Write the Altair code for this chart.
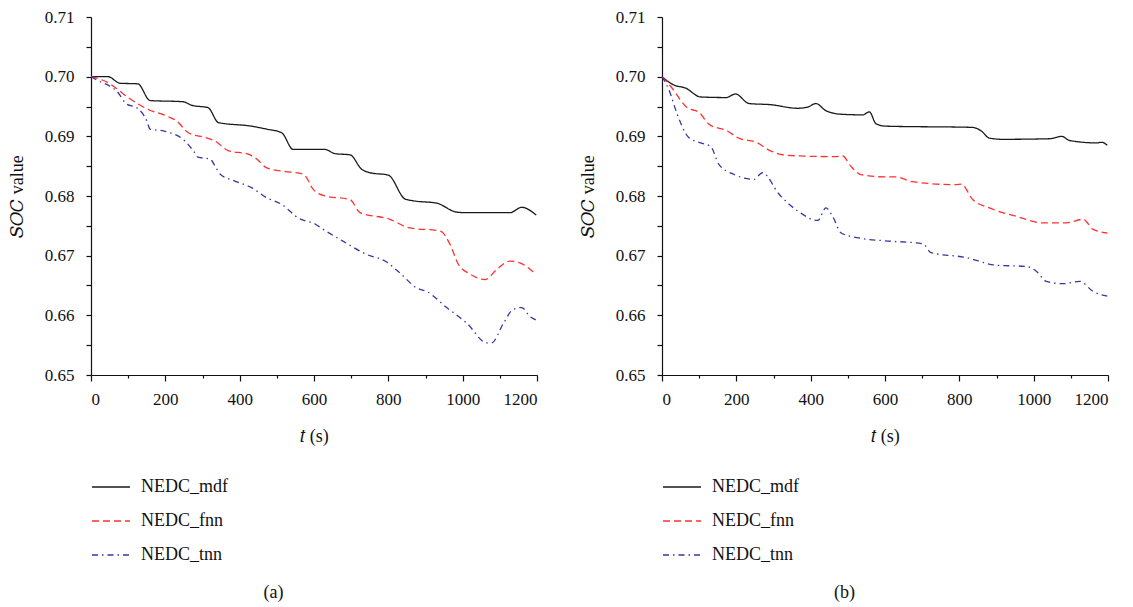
import altair as alt
import pandas as pd

# ---------------- data ----------------
series_names = ["NEDC_mdf", "NEDC_fnn", "NEDC_tnn"]
series_colors = ["#1a1a1a", "#ff3030", "#3a36a0"]
series_dashes = [[1, 0], [7, 4], [6, 4, 1.5, 4]]

# panel (a)
mdf_a_t = [0, 46, 78, 126, 159, 248, 271, 315, 343, 432, 473, 513, 544, 603, 630, 656, 697,
           728, 751, 800, 845, 867, 930, 984, 1011, 1127, 1159, 1198]
mdf_a_v = [0.7000, 0.7000, 0.6989, 0.6988, 0.6960, 0.6958, 0.6952, 0.6948, 0.6923, 0.6917,
           0.6912, 0.6906, 0.6878, 0.6878, 0.6878, 0.6871, 0.6869, 0.6845, 0.6839, 0.6835,
           0.6795, 0.6792, 0.6788, 0.6773, 0.6772, 0.6772, 0.6781, 0.6768]
fnn_a_t = [0, 51, 65, 100, 154, 204, 230, 262, 307, 334, 369, 423, 446, 473, 522, 562, 576,
           598, 630, 697, 724, 804, 854, 940, 966, 988, 1020, 1060, 1092, 1127, 1154, 1198]
fnn_a_v = [0.7000, 0.6988, 0.6982, 0.6965, 0.6945, 0.6934, 0.6926, 0.6906, 0.6898, 0.6892,
           0.6876, 0.6870, 0.6862, 0.6847, 0.6841, 0.6838, 0.6834, 0.6811, 0.6800, 0.6794,
           0.6772, 0.6761, 0.6747, 0.6741, 0.6719, 0.6686, 0.6669, 0.6660, 0.6677, 0.6691,
           0.6688, 0.6668]
tnn_a_t = [0, 20, 51, 69, 96, 123, 150, 159, 195, 253, 275, 288, 320, 334, 347, 387, 432, 473,
           513, 558, 603, 625, 679, 742, 791, 831, 876, 903, 957, 1011, 1065, 1078, 1110, 1136,
           1159, 1181, 1198]
tnn_a_v = [0.7000, 0.6993, 0.6984, 0.6976, 0.6954, 0.6948, 0.6926, 0.6912, 0.6909, 0.6892,
           0.6876, 0.6865, 0.6862, 0.6850, 0.6837, 0.6825, 0.6814, 0.6797, 0.6786, 0.6763,
           0.6753, 0.6744, 0.6724, 0.6702, 0.6691, 0.6671, 0.6646, 0.6640, 0.6613, 0.6587,
           0.6554, 0.6554, 0.6587, 0.6610, 0.6613, 0.6598, 0.6592]

# panel (b)
mdf_b_t = [0, 32, 63, 104, 172, 198, 234, 293, 365, 392, 414, 441, 482, 540, 558, 576, 603,
           836, 859, 881, 917, 1043, 1075, 1097, 1169, 1183, 1198]
mdf_b_v = [0.7000, 0.6986, 0.6981, 0.6966, 0.6965, 0.6971, 0.6955, 0.6953, 0.6947, 0.6949,
           0.6955, 0.6943, 0.6937, 0.6936, 0.6941, 0.6921, 0.6917, 0.6915, 0.6909, 0.6897,
           0.6895, 0.6896, 0.6900, 0.6893, 0.6889, 0.6890, 0.6885]
fnn_b_t = [0, 23, 68, 100, 127, 176, 203, 257, 288, 338, 463, 486, 508, 535, 598, 630, 674,
           791, 805, 836, 881, 953, 1025, 1088, 1133, 1160, 1198]
fnn_b_v = [0.7000, 0.6984, 0.6948, 0.6940, 0.6920, 0.6909, 0.6898, 0.6889, 0.6877, 0.6868,
           0.6866, 0.6867, 0.6850, 0.6836, 0.6832, 0.6832, 0.6824, 0.6819, 0.6820, 0.6794,
           0.6780, 0.6766, 0.6755, 0.6755, 0.6761, 0.6744, 0.6738]
tnn_b_t = [0, 18, 41, 72, 104, 131, 153, 194, 248, 270, 315, 365, 419, 441, 459, 482, 535,
           598, 702, 724, 818, 899, 980, 1007, 1034, 1079, 1124, 1160, 1198]
tnn_b_v = [0.7000, 0.6979, 0.6937, 0.6898, 0.6889, 0.6883, 0.6853, 0.6836, 0.6828, 0.6839,
           0.6803, 0.6775, 0.6759, 0.6780, 0.6766, 0.6738, 0.6729, 0.6725, 0.6720, 0.6705,
           0.6697, 0.6684, 0.6682, 0.6674, 0.6657, 0.6653, 0.6657, 0.6640, 0.6632]

x_tick_values = [0, 100, 200, 300, 400, 500, 600, 700, 800, 900, 1000, 1100, 1200]
y_tick_values = [0.65, 0.655, 0.66, 0.665, 0.67, 0.675, 0.68, 0.685, 0.69, 0.695, 0.70, 0.705, 0.71]

FONT = "Times New Roman, Liberation Serif, serif"


def make_df(ts, vs):
    rows = []
    for name, t_list, v_list in zip(series_names, ts, vs):
        for i, (t, v) in enumerate(zip(t_list, v_list)):
            rows.append({"series": name, "t": t, "soc": v, "order": i})
    return pd.DataFrame(rows)


def panel(df, label):
    legend = alt.Legend(
        title=None, orient="none", legendX=0, legendY=450, direction="vertical",
        symbolType="stroke", symbolSize=1444, symbolStrokeWidth=1.3,
        labelFont=FONT, labelFontSize=18, labelColor="#111", labelOffset=10,
        rowPadding=5,
    )
    return alt.Chart(df).mark_line(interpolate="monotone", strokeWidth=1.3).encode(
        x=alt.X("t:Q",
                scale=alt.Scale(domain=[0, 1200], nice=False),
                axis=alt.Axis(values=x_tick_values, format="d",
                              labelExpr="datum.value % 200 == 0 ? datum.label : ''",
                              tickSize={"condition": {"test": "datum.value % 200 == 0", "value": 6}, "value": 3},
                              labelPadding=10, titlePadding=20,
                              title="𝑡 (s)")),
        y=alt.Y("soc:Q",
                scale=alt.Scale(domain=[0.65, 0.71], nice=False, zero=False),
                axis=alt.Axis(values=y_tick_values,
                              labelExpr="round(datum.value*1000) % 10 == 0 ? format(datum.value, '.2f') : ''",
                              tickSize=5, labelPadding=12, titlePadding=18,
                              title="𝑆𝑂𝐶 value")),
        color=alt.Color("series:N", scale=alt.Scale(domain=series_names, range=series_colors),
                        legend=legend),
        strokeDash=alt.StrokeDash("series:N", scale=alt.Scale(domain=series_names, range=series_dashes),
                                  legend=legend),
        detail="series:N",
        order="order:Q",
    ).properties(
        width=446, height=358,
        title=alt.TitleParams(label, orient="bottom", anchor="middle", frame="bounds",
                              offset=20, font=FONT, fontSize=18, fontWeight="normal", color="#111"),
    )


df_a = make_df([mdf_a_t, fnn_a_t, tnn_a_t], [mdf_a_v, fnn_a_v, tnn_a_v])
df_b = make_df([mdf_b_t, fnn_b_t, tnn_b_t], [mdf_b_v, fnn_b_v, tnn_b_v])

chart = alt.hconcat(panel(df_a, "(a)"), panel(df_b, "(b)"), spacing=40).resolve_scale(
    color="independent", strokeDash="independent"
).properties(padding=0).configure_view(stroke=None).configure_axis(
    grid=False, domainColor="#111", tickColor="#111", domainWidth=1.2, tickWidth=1.2,
    labelFont=FONT, labelFontSize=17, labelColor="#111",
    titleFont=FONT, titleFontSize=18, titleFontWeight="normal", titleColor="#111",
)

chart.save("out.html", embed_options={"renderer": "svg", "actions": False})
